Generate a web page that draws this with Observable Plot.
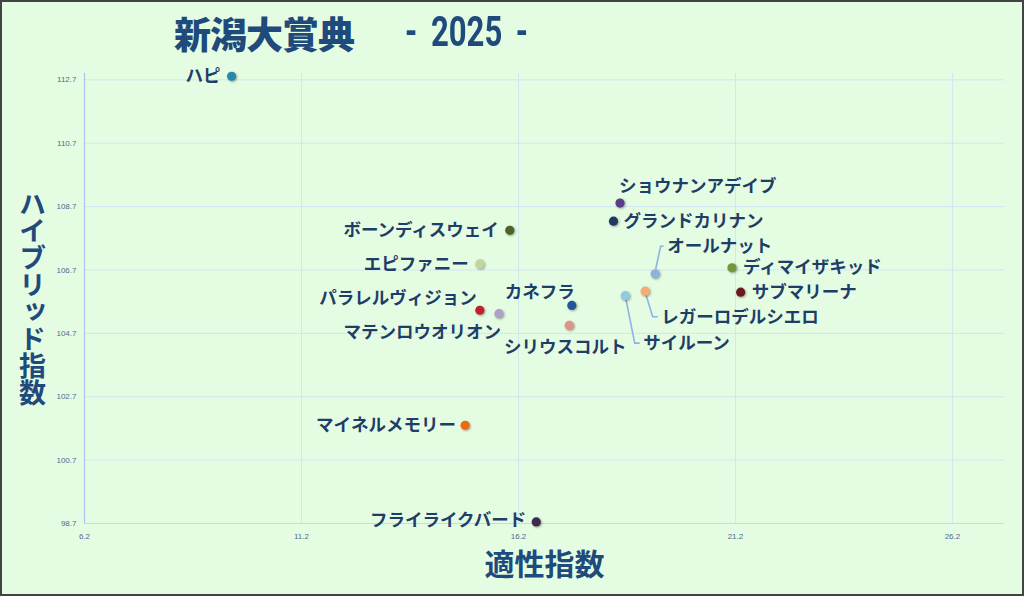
<!DOCTYPE html>
<html>
<head>
<meta charset="utf-8">
<script src="https://cdn.jsdelivr.net/npm/d3@7"></script>
<script src="https://cdn.jsdelivr.net/npm/@observablehq/plot@0.6"></script>
<style>
  html, body { margin: 0; padding: 0; background: #e4fde2; }
  #wrap { position: relative; width: 1024px; height: 596px; background: #e4fde2; overflow: hidden; }
  #frame { position: absolute; left: 0; top: 0; width: 1024px; height: 596px; box-sizing: border-box; border: 2px solid #3f4540; pointer-events: none; z-index: 5; }
  #title { position: relative; height: 62px; }
  #title .jp { position: absolute; left: 174px; top: 15px; font-family: "Noto Sans CJK JP", sans-serif; font-weight: 900; font-size: 37px; line-height: 37px; color: #1f4a7c; letter-spacing: -1px; white-space: nowrap; }
  #title .num { position: absolute; left: 405px; top: 11px; font-family: Roboto, "Liberation Sans", sans-serif; font-weight: 700; font-size: 42px; line-height: 42px; color: #1f4a7c; white-space: pre; transform: scaleX(0.74); transform-origin: left center; word-spacing: 8px; }
  svg [aria-label="dot"] circle { filter: drop-shadow(1px 1.5px 1px rgba(0,0,0,0.35)); }
</style>
</head>
<body>
<div id="wrap">
  <div id="title"><span class="jp">新潟大賞典</span><span class="num">- 2025 -</span></div>
  <div id="chart"></div>
  <div id="frame"></div>
</div>
<script>
// ---- data ----
const horses = ["ハピ", "ショウナンアデイブ", "グランドカリナン", "ボーンディスウェイ", "エピファニー", "オールナット", "ディマイザキッド", "サブマリーナ", "レガーロデルシエロ", "サイルーン", "カネフラ", "シリウスコルト", "パラレルヴィジョン", "マテンロウオリオン", "マイネルメモリー", "フライライクバード"];
const aptitude = [9.59, 18.54, 18.39, 16.00, 15.31, 19.35, 21.12, 21.32, 19.12, 18.66, 17.43, 17.37, 15.31, 15.75, 14.97, 16.61];
const hybrid = [112.81, 108.81, 108.24, 107.95, 106.89, 106.58, 106.77, 106.00, 106.03, 105.89, 105.58, 104.95, 105.43, 105.32, 101.80, 98.75];
const colors = ["#2b86ab", "#5c3d85", "#1f3a5f", "#4f6228", "#c2d59a", "#8fb2dc", "#77963a", "#6a1a1c", "#f5ab72", "#8ccbe0", "#24569c", "#e3918a", "#c0222b", "#b09fc8", "#f06a10", "#3f2a4e"];
const xTicks = [6.2, 11.2, 16.2, 21.2, 26.2];
const yTicks = [98.7, 100.7, 102.7, 104.7, 106.7, 108.7, 110.7, 112.7];
const xTitle = "適性指数";
const yTitle = "ハイブリッド指数";

// ---- label placement (pixel offsets, styling only) ----
const L = (dx, dy, anchor) => ({dx, dy, anchor});
const placement = {
  "ハピ": L(-11, 0, "end"),
  "ショウナンアデイブ": L(-1, -17, "start"),
  "グランドカリナン": L(10, 0, "start"),
  "ボーンディスウェイ": L(-11, 0, "end"),
  "エピファニー": L(-11, 0, "end"),
  "オールナット": L(12, -27, "start"),
  "ディマイザキッド": L(11, 0, "start"),
  "サブマリーナ": L(11, 0, "start"),
  "レガーロデルシエロ": L(16, 26, "start"),
  "サイルーン": L(18, 48, "start"),
  "カネフラ": L(3, -13, "end"),
  "シリウスコルト": L(-4, 22, "middle"),
  "パラレルヴィジョン": L(-3, -12, "end"),
  "マテンロウオリオン": L(2, 19, "end"),
  "マイネルメモリー": L(-9, 0, "end"),
  "フライライクバード": L(-10, -2, "end")
};
// leader line bends (pixel offsets from the point)
const leaders = {
  "オールナット": [[1, -4], [6, -27], [9, -27]],
  "レガーロデルシエロ": [[1, 3], [8, 26], [13, 26]],
  "サイルーン": [[1, 3], [10, 48], [15, 48]]
};

const rows = horses.map((h, i) => ({name: h, x: aptitude[i], y: hybrid[i], color: colors[i]}));
const labelColor = "#1f3d69";
const jpFont = "'Noto Sans CJK JP', sans-serif";

const leaderMark = (index, scales) => {
  const g = d3.create("svg:g").attr("fill", "none").attr("stroke", "#8db3e2").attr("stroke-width", 1.6);
  rows.forEach(r => {
    const pts = leaders[r.name];
    if (!pts) return;
    const px = scales.x(r.x), py = scales.y(r.y);
    g.append("path").attr("d", d3.line()(pts.map(([a, b]) => [px + a, py + b])));
  });
  return g.node();
};

const labelMarks = rows.map(r => {
  const p = placement[r.name];
  return Plot.text([r], {
    x: "x", y: "y", text: "name", dx: p.dx, dy: p.dy, textAnchor: p.anchor,
    fontSize: 17.5, fontWeight: "bold", fill: labelColor, fontFamily: jpFont
  });
});

const chart = Plot.plot({
  width: 1024,
  height: 534,
  marginTop: 11,
  marginBottom: 73,
  marginLeft: 84,
  marginRight: 20,
  style: {background: "transparent", fontFamily: jpFont, overflow: "visible"},
  x: {domain: [6.2, 27.4], ticks: xTicks},
  y: {domain: [98.7, 112.9], ticks: yTicks},
  marks: [
    Plot.gridX(xTicks, {stroke: "#d2e4f2", strokeOpacity: 1, strokeWidth: 1}),
    Plot.gridY(yTicks, {stroke: "#d2e4f2", strokeOpacity: 1, strokeWidth: 1}),
    Plot.ruleY([98.7], {stroke: "#c5d8ee", strokeWidth: 1.2}),
    Plot.ruleX([6.2], {stroke: "#a9c4ec", strokeWidth: 1.2}),
    Plot.axisX(xTicks, {label: null, tickSize: 0, tickPadding: 10, fontSize: 8, color: "#50698d", tickFormat: d => d.toFixed(1), fontFamily: "'Liberation Sans Narrow', 'Liberation Sans', sans-serif"}),
    Plot.axisY(yTicks, {label: null, tickSize: 0, tickPadding: 8, fontSize: 8, color: "#50698d", tickFormat: d => d.toFixed(1), fontFamily: "'Liberation Sans Narrow', 'Liberation Sans', sans-serif"}),
    leaderMark,
    Plot.dot(rows, {x: "x", y: "y", r: 4.6, fill: "color", stroke: "none"}),
    ...labelMarks,
    Plot.text([xTitle], {text: d => d, frameAnchor: "bottom", dy: 42, lineAnchor: "middle", fontSize: 30, fontWeight: "bold", fill: "#1f4a7c", fontFamily: jpFont}),
    Plot.text([yTitle], {text: d => d, frameAnchor: "left", dx: -52, lineAnchor: "middle", textAnchor: "middle", fontSize: 27, fontWeight: "bold", fill: "#1f4a7c", fontFamily: jpFont})
  ]
});
// the y title is written vertically (upright characters), as in the reference
chart.querySelectorAll("text").forEach(t => {
  if (t.textContent === yTitle) {
    t.setAttribute("y", "0");
    t.setAttribute("dy", "0");
    t.setAttribute("text-anchor", "middle");
    t.style.writingMode = "vertical-rl";
    t.style.textOrientation = "upright";
    t.style.letterSpacing = "0px";
  }
});
document.getElementById("chart").appendChild(chart);
</script>
</body>
</html>
